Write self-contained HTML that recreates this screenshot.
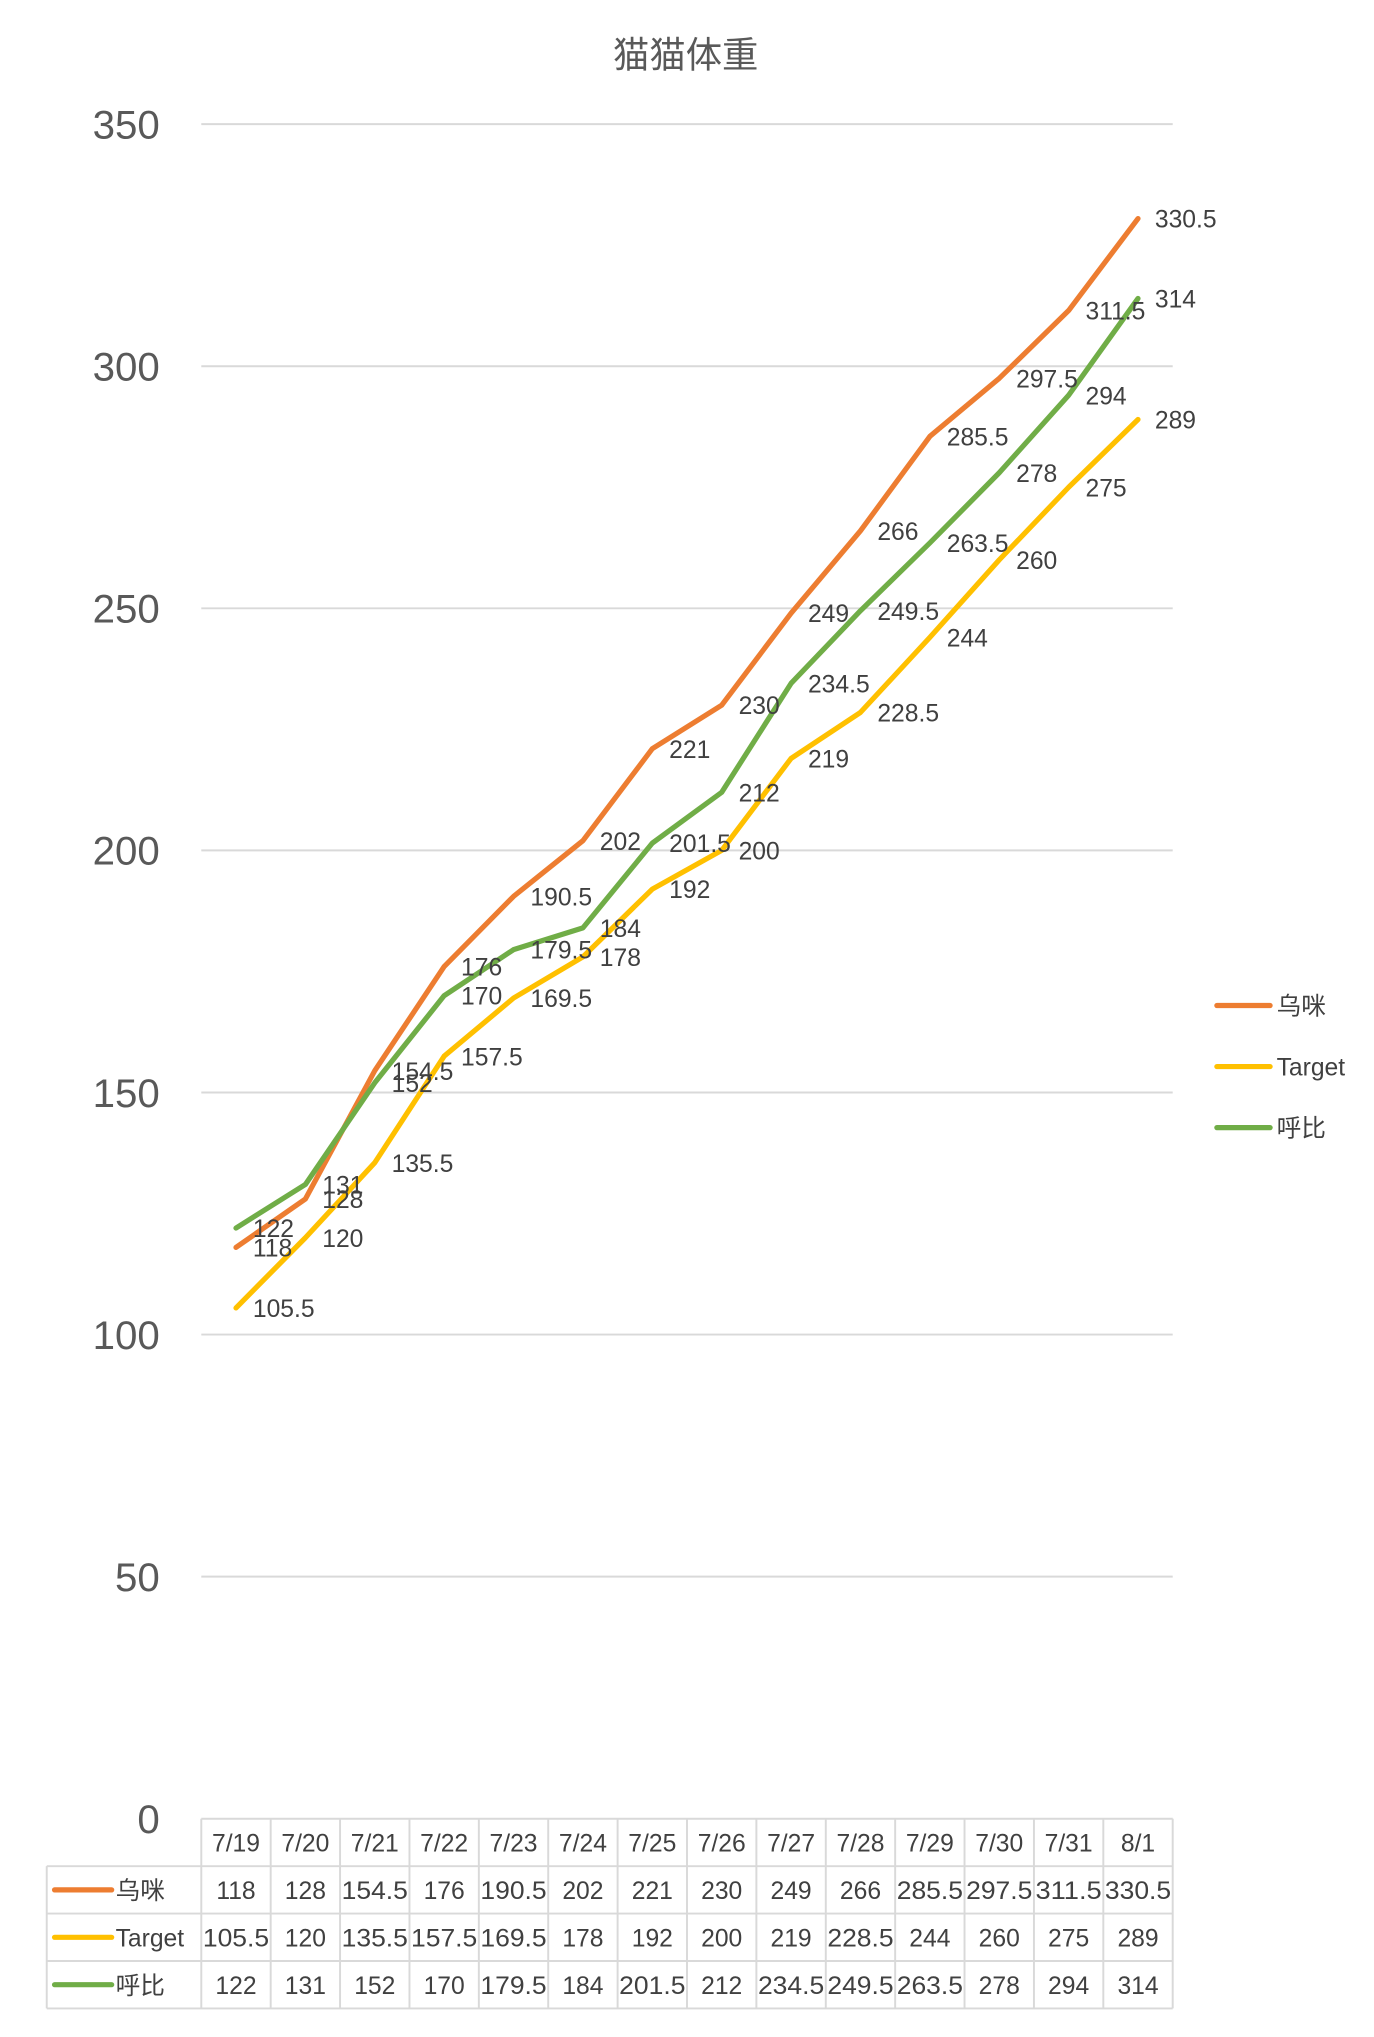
<!DOCTYPE html>
<html><head><meta charset="utf-8"><style>
html,body{margin:0;padding:0;background:#fff;}
svg{display:block;}
text{font-family:"Liberation Sans","Noto Sans CJK SC",sans-serif;fill:#404040;}
</style></head><body>
<svg id="s" width="1374" height="2037" viewBox="0 0 1058 1568" preserveAspectRatio="none" xmlns="http://www.w3.org/2000/svg"></svg>
<script>
const s=document.getElementById('s');
let h='';
const Y=v=>1400-3.727*v;
const cw=748/14, X=i=>155+cw/2+i*cw;
h+=`<text x="528" y="52" text-anchor="middle" font-size="28" style="fill:#595959">猫猫体重</text>`;
for(let v=0;v<=350;v+=50){
  if(v>0) h+=`<line x1="155" x2="903" y1="${Y(v)}" y2="${Y(v)}" stroke="#d9d9d9" stroke-width="1.5"/>`;
  h+=`<text x="123" y="${Y(v)+11}" text-anchor="end" font-size="31" style="fill:#595959">${v}</text>`;
}
const dates=['7/19','7/20','7/21','7/22','7/23','7/24','7/25','7/26','7/27','7/28','7/29','7/30','7/31','8/1'];
const series=[
 ['乌咪','#ED7D31',[118,128,154.5,176,190.5,202,221,230,249,266,285.5,297.5,311.5,330.5]],
 ['Target','#FFC000',[105.5,120,135.5,157.5,169.5,178,192,200,219,228.5,244,260,275,289]],
 ['呼比','#70AD47',[122,131,152,170,179.5,184,201.5,212,234.5,249.5,263.5,278,294,314]]];
series.forEach(([n,c,d])=>{
  h+=`<polyline fill="none" stroke="${c}" stroke-width="4" stroke-linejoin="round" stroke-linecap="round" points="${d.map((v,i)=>X(i)+','+Y(v)).join(' ')}"/>`;
});
series.forEach(([n,c,d])=>{
  d.forEach((v,i)=>{h+=`<text x="${X(i)+13}" y="${Y(v)+7}" font-size="19">${v}</text>`;});
});
series.forEach(([n,c],k)=>{
  const y=774+k*47;
  h+=`<line x1="937" x2="978" y1="${y}" y2="${y}" stroke="${c}" stroke-width="4" stroke-linecap="round"/>`;
  h+=`<text x="983" y="${y+7}" font-size="19">${n}</text>`;
});
const tb=1400, rh=36.5;
const g='#d9d9d9';
h+=`<line x1="155" x2="903" y1="${tb}" y2="${tb}" stroke="${g}" stroke-width="1.5"/>`;
for(let r=1;r<=4;r++){h+=`<line x1="36" x2="903" y1="${tb+r*rh}" y2="${tb+r*rh}" stroke="${g}" stroke-width="1.5"/>`;}
h+=`<line x1="36" x2="36" y1="${tb+rh}" y2="${tb+4*rh}" stroke="${g}" stroke-width="1.5"/>`;
for(let i=0;i<=14;i++){h+=`<line x1="${155+i*cw}" x2="${155+i*cw}" y1="${tb}" y2="${tb+4*rh}" stroke="${g}" stroke-width="1.5"/>`;}
dates.forEach((t,i)=>{h+=`<text x="${X(i)}" y="${tb+rh/2+7}" text-anchor="middle" font-size="19">${t}</text>`;});
series.forEach(([n,c,d],k)=>{
  const cy=tb+(k+1)*rh+rh/2;
  h+=`<line x1="42" x2="86" y1="${cy}" y2="${cy}" stroke="${c}" stroke-width="4" stroke-linecap="round"/>`;
  h+=`<text x="89" y="${cy+7}" font-size="19">${n}</text>`;
  d.forEach((v,i)=>{const L=String(v).length>4;h+=`<text x="${X(i)}" y="${cy+7}" text-anchor="middle" font-size="19" ${L?'textLength="51" lengthAdjust="spacingAndGlyphs"':''}>${v}</text>`;});
});
s.innerHTML=h;
</script>
</body></html>
